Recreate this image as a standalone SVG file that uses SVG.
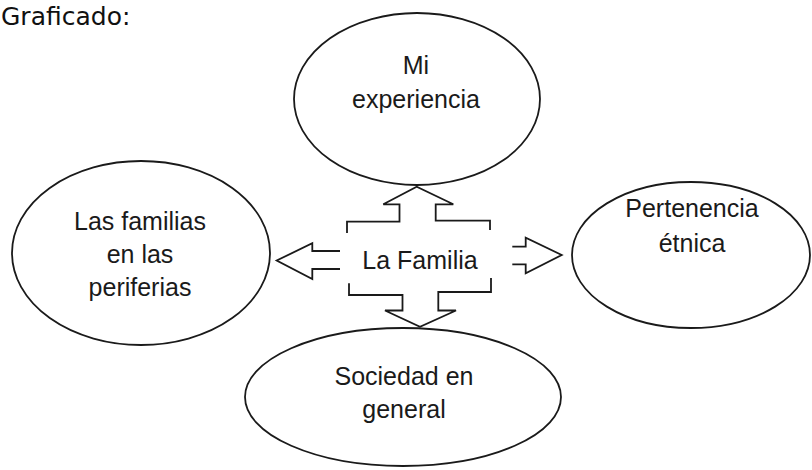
<svg xmlns="http://www.w3.org/2000/svg" width="812" height="470" viewBox="0 0 812 470">
<style>
.node ellipse{fill:none;stroke:#1a1a1a;stroke-width:1.8}
.lbl{font-family:"Liberation Sans",Arial,sans-serif;font-size:25px;fill:#1a1a1a;text-anchor:middle}
.conn path{fill:none;stroke:#1a1a1a;stroke-width:1.8;stroke-linejoin:miter}
.title{font-family:"DejaVu Sans",sans-serif;font-size:25px;fill:#111}
</style>
<rect width="812" height="470" fill="#fff"/>
<text class="title" x="1" y="25">Graficado:</text>
<g id="mi-experiencia" class="node">
<ellipse cx="417" cy="99" rx="123" ry="86"/>
<text class="lbl" x="416" y="74">Mi</text>
<text class="lbl" x="416" y="108">experiencia</text>
</g>
<g id="familias-periferias" class="node">
<ellipse cx="141" cy="253" rx="129" ry="92"/>
<text class="lbl" x="140" y="230">Las familias</text>
<text class="lbl" x="140" y="263">en las</text>
<text class="lbl" x="140" y="296">periferias</text>
</g>
<g id="pertenencia-etnica" class="node">
<ellipse cx="691" cy="255" rx="119" ry="73"/>
<text class="lbl" x="692" y="217">Pertenencia</text>
<text class="lbl" x="692" y="252">étnica</text>
</g>
<g id="sociedad-general" class="node">
<ellipse cx="403" cy="397" rx="158" ry="69"/>
<text class="lbl" x="404" y="385">Sociedad en</text>
<text class="lbl" x="404" y="418">general</text>
</g>
<g id="la-familia" class="node">
<text class="lbl" x="420" y="269">La Familia</text>
</g>
<g id="connectors" class="conn">
<path d="M347,233 L347,221.7 L399.5,221.7 L399.5,204.3 L383.3,204.3 L416.7,186.7 L453.3,204.3 L435.7,204.3 L435.7,220.7 L490,220.7 L490,230"/>
<path d="M349,283.3 L349,295 L402.5,295 L402.5,310.5 L385,310.5 L420,326.7 L456,310.5 L438.3,310.5 L438.3,292 L491,292 L491,278"/>
<path d="M340,251 L312.3,251 L312.3,243.3 L276.7,260.5 L312.3,279 L312.3,269 L340,269"/>
<path d="M512.3,246.7 L525.7,246.7 L525.7,237.7 L561.7,255 L525.7,273.3 L525.7,264.3 L512.3,264.3"/>
</g>
</svg>
